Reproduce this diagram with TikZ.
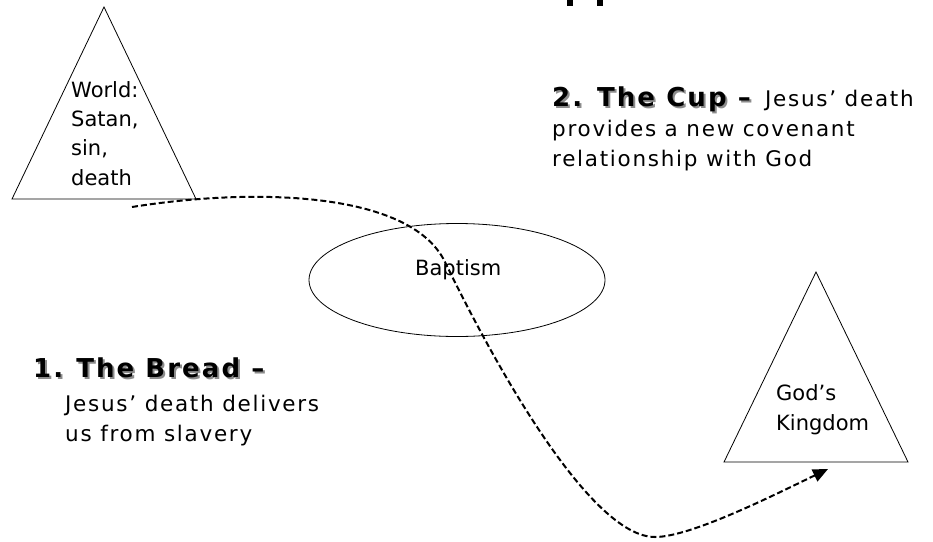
\documentclass[tikz,border=0pt]{standalone}
\usepackage{fontspec}
\usepackage{tikz}
\usetikzlibrary{positioning}
\usetikzlibrary{shapes.geometric}
\usetikzlibrary{arrows.meta}
\newfontfamily\shapefont{DejaVu Sans}
\newfontfamily\bodyfont{DejaVu Sans}[LetterSpace=8]
\tikzset{
  x=1pt, y=-1pt,
  realm/.style={draw=black, line width=0.8pt, line join=miter},
  intext/.style={font=\shapefont\fontsize{21}{29.3}\selectfont, inner sep=0, anchor=base west, align=left},
  bodytext/.style={font=\bodyfont\fontsize{21.5}{30}\selectfont, inner sep=0, anchor=base west, align=left},
  heading/.style={font=\bodyfont\bfseries\fontsize{26}{30}\selectfont, inner sep=0, anchor=base west},
  dropshade/.style={heading, text=black!45},
  journey/.style={line width=2pt, dash pattern=on 6pt off 3pt, -{Triangle[length=15pt,width=13pt]}}
}

\begin{document}
\begin{tikzpicture}
  \useasboundingbox (0,0) rectangle (933,541);
  % descenders of the cut-off title
  \fill (567,0) rectangle (573,5.5);
  \fill (597,0) rectangle (603,5.5);
  % the world (node base = last line)
  \draw[realm] (104,7) -- (196,199) -- (12,199) -- cycle;
  \node[intext] (world) at (71,185) {World:\\Satan,\\sin,\\death};
  % the kingdom
  \draw[realm] (816,272) -- (908,462) -- (724,462) -- cycle;
  \node[intext] (kingdom) at (776,430) {God’s\\Kingdom};
  % baptism
  \node[realm, ellipse, minimum width=296pt, minimum height=113pt] (pool) at (457,280) {};
  \node[intext] (baptism) at (415,275) {Baptism};
  % bread
  \node[dropshade] at (35,379) {1.\hspace{0.5em}The Bread –};
  \node[heading] (bread) at (33,377) {1.\hspace{0.5em}The Bread –};
  \node[bodytext] (breadtext) at (65,441) {Jesus’ death delivers\\us from slavery};
  % cup
  \node[dropshade] at (554,108) {2. The Cup –};
  \node[heading] (cup) at (552,106) {2. The Cup –};
  \node[bodytext, right=14pt of cup.base east, anchor=base west] (cuptext) {Jesus’ death};
  \node[bodytext] (cupmore) at (552,166) {provides a new covenant\\relationship with God};
  % the way through
  \coordinate (leave) at (132,207);
  \coordinate (arrive) at (828,469);
  \draw[journey] (leave) .. controls (250,188) and (410,190) .. (445,262)
    .. controls (494,363) and (590,537) .. (655,537)
    .. controls (690,537) and (770,497) .. (arrive);
\end{tikzpicture}
\end{document}
